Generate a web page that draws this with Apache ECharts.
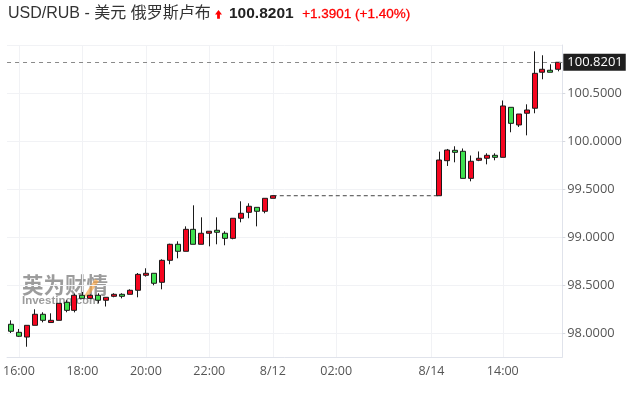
<!DOCTYPE html>
<html><head><meta charset="utf-8">
<script src="https://cdn.jsdelivr.net/npm/echarts@6/dist/echarts.min.js"></script>
<style>html,body{margin:0;padding:0;background:#fff}#c{width:626px;height:395px}</style>
</head><body><div id="c"></div>
<script>
// 15-minute bars: Fri 8/11 15:45 .. 8/12 00:00, non-trading gap, Mon 8/14 12:00 .. 15:45
const categories = [
  '15:45','16:00','16:15','16:30','16:45','17:00','17:15','17:30','17:45','18:00','18:15','18:30','18:45','19:00','19:15','19:30','19:45',
  '20:00','20:15','20:30','20:45','21:00','21:15','21:30','21:45','22:00','22:15','22:30','22:45','23:00','23:15','23:30','23:45','8/12',
  '00:15','00:30','00:45','01:00','01:15','01:30','01:45','02:00','02:15','02:30','02:45','03:00','03:15','03:30','03:45','04:00','04:15','04:30','04:45','8/14',
  '12:00','12:15','12:30','12:45','13:00','13:15','13:30','13:45','14:00','14:15','14:30','14:45','15:00','15:15','15:30','15:45'
];
const gap20 = [null,null,null,null,null,null,null,null,null,null,null,null,null,null,null,null,null,null,null,null];
const openV = [
  98.091,98.007,97.958,98.080,98.195,98.109,98.132,98.320,98.236,98.393,98.361,98.393,98.341,98.382,98.403,98.403,98.445,
  98.601,98.622,98.528,98.757,98.924,98.851,99.080,98.924,99.039,99.070,99.039,98.986,99.195,99.257,99.309,99.268,99.403
].concat(gap20, [
  99.430,99.795,99.903,99.893,99.611,99.799,99.820,99.851,99.830,100.351,100.167,100.289,100.341,100.716,100.737,100.747
]);
const closeV = [
  98.018,97.966,98.080,98.195,98.132,98.132,98.309,98.236,98.393,98.361,98.393,98.341,98.372,98.403,98.382,98.445,98.611,
  98.622,98.518,98.757,98.924,98.851,99.080,98.924,99.039,99.060,99.049,98.986,99.195,99.247,99.320,99.268,99.403,99.430
].concat(gap20, [
  99.802,99.906,99.882,99.611,99.789,99.820,99.851,99.830,100.365,100.184,100.281,100.323,100.705,100.747,100.716,100.8201
]);
const lowV = [
  98.000,97.958,97.857,98.080,98.111,98.109,98.132,98.216,98.215,98.361,98.355,98.309,98.276,98.372,98.361,98.403,98.372,
  98.587,98.497,98.455,98.716,98.778,98.851,98.924,98.924,98.903,98.924,98.914,98.976,99.153,99.195,99.111,99.247,99.403
].concat(gap20, [
  99.430,99.740,99.778,99.611,99.580,99.790,99.757,99.799,99.830,100.091,100.146,100.059,100.289,100.643,100.716,100.726
]);
const highV = [
  98.132,98.042,98.080,98.247,98.216,98.205,98.309,98.341,98.410,98.427,98.400,98.414,98.372,98.414,98.414,98.455,98.625,
  98.674,98.622,98.768,98.930,98.955,99.111,99.330,99.205,99.060,99.205,99.060,99.195,99.372,99.351,99.309,99.403,99.434
].concat(gap20, [
  99.889,99.917,99.945,99.922,99.849,99.891,99.872,99.872,100.422,100.351,100.281,100.382,100.934,100.893,100.799,100.8201
]);
const tickIndices = [1, 9, 17, 25, 33, 41, 53, 62];
const lastPrice = 100.8201;
const changeText = '+1.3901 (+1.40%)';
const titleText = 'USD/RUB - 美元 俄罗斯卢布';

const candleData = categories.map((c, i) => openV[i] == null ? '-' : [openV[i], closeV[i], lowV[i], highV[i]]);
const lastFri = openV.indexOf(null) - 1;
let firstMon = lastFri + 1; while (openV[firstMon] == null) firstMon++;
const gapLine = categories.map((c, i) => i === lastFri ? closeV[i] : (i === firstMon ? openV[i] : '-'));
const showTick = (i) => tickIndices.indexOf(i) >= 0;

const chart = echarts.init(document.getElementById('c'), null, {renderer: 'canvas'});
const wm = 'rgba(95,95,95,0.62)';
chart.setOption({
  animation: false,
  grid: {left: 6.3, right: 63.7, top: 45, bottom: 38},
  xAxis: {
    type: 'category', data: categories, boundaryGap: true,
    axisLine: {lineStyle: {color: '#e0e3eb'}},
    axisTick: {alignWithLabel: true, interval: showTick, length: 4, lineStyle: {color: '#d6d9e0'}},
    axisLabel: {interval: showTick, color: '#555', fontSize: 12.5, fontFamily: 'Open Sans', margin: 8},
    splitLine: {show: true, alignWithLabel: true, interval: showTick, lineStyle: {color: '#f1f2f5'}}
  },
  yAxis: {
    type: 'value', position: 'right', min: 97.75, max: 101, minInterval: 0.5, maxInterval: 0.5,
    axisLine: {show: true, lineStyle: {color: '#e0e3eb'}},
    axisTick: {show: true, length: 3, lineStyle: {color: '#d6d9e0'}},
    axisLabel: {formatter: v => v.toFixed(4), color: '#555', fontSize: 12.8, fontFamily: 'Open Sans', margin: 5, showMinLabel: false, showMaxLabel: false},
    splitLine: {lineStyle: {color: '#f1f2f5'}}
  },
  graphic: [
    {type: 'text', left: 8, top: 6, style: {text: titleText, font: '16px "Liberation Sans", "Noto Sans CJK SC"', fill: '#333'}},
    {type: 'polygon', shape: {points: [[218.5,10],[222,14.6],[219.9,14.6],[219.9,18.8],[217.1,18.8],[217.1,14.6],[215,14.6]]}, style: {fill: '#f00'}},
    {type: 'text', left: 229, top: 6, style: {text: lastPrice.toFixed(4), font: 'bold 15.5px "Liberation Sans"', fill: '#222'}},
    {type: 'text', left: 302, top: 7, style: {text: changeText, font: '13.5px "Liberation Sans"', fill: '#f00', stroke: '#f00', lineWidth: 0.3}},
    {type: 'text', left: 22, top: 274, z: -1, style: {text: '英为财情', font: 'bold 21.5px "Noto Sans CJK SC"', fill: wm}},
    {type: 'text', left: 22, top: 295, z: -1, style: {text: 'Investing.com', font: 'bold 11.5px "Liberation Sans"', fill: wm}},
    {type: 'polygon', z: -1, shape: {points: [[84,296],[95,279],[99,281],[88,297]]}, style: {fill: 'rgba(247,160,60,0.65)'}}
  ],
  series: [
    {
      type: 'line', data: gapLine, connectNulls: true, symbol: 'none', silent: true, z: 1,
      lineStyle: {type: [4, 3], color: '#444', width: 1}
    },
    {
      type: 'candlestick', data: candleData, barWidth: 5.5, z: 3,
      itemStyle: {color: '#f5051f', color0: '#3fe04f', borderColor: '#1b1b1b', borderColor0: '#1b1b1b', borderWidth: 1},
      markLine: {
        symbol: ['none', 'none'], silent: true, animation: false,
        data: [{yAxis: lastPrice}],
        lineStyle: {type: [4, 4], color: '#8a8a8a', width: 1},
        label: {position: 'end', formatter: lastPrice.toFixed(4), backgroundColor: '#1f1f1f', color: '#fff',
          fontSize: 13, fontWeight: 500, fontFamily: 'Open Sans', padding: [2, 3, 2, 4], distance: 1}
      }
    }
  ]
});
</script></body></html>
